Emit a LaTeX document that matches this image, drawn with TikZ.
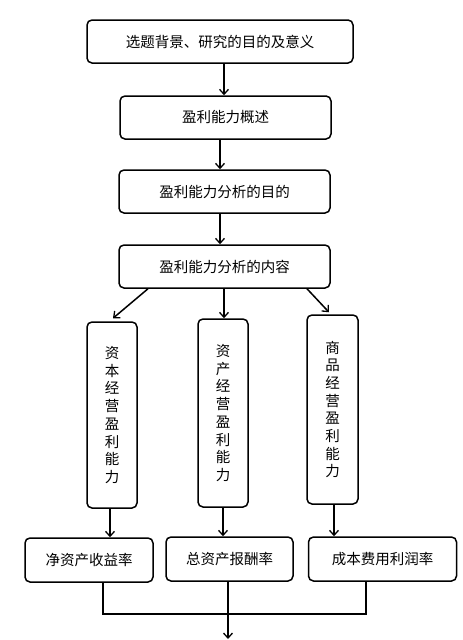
\documentclass[tikz,border=0pt]{standalone}
\usepackage{fontspec}
\setmainfont{Noto Sans CJK SC}
\usetikzlibrary{arrows.meta,calc}
\tikzset{
  box/.style={draw, line width=1.5pt, rounded corners=5pt, inner sep=0pt, align=center,
    font=\fontsize{14.5pt}{17.7pt}\selectfont},
  colbox/.style={box, minimum width=50pt},
  arr/.style={line width=1.5pt, -{Straight Barb[length=5pt,width=9pt,line width=1.3pt]}},
  ln/.style={line width=1.5pt}
}
\begin{document}
\begin{tikzpicture}[x=1pt,y=-1pt]
\useasboundingbox (0,0) rectangle (463,640);
\node[box, minimum width=266pt, minimum height=43pt] (b1) at (220,41.5) {选题背景、研究的目的及意义};
\node[box, minimum width=211pt, minimum height=43pt] (b2) at (225.5,117.5) {盈利能力概述};
\node[box, minimum width=211pt, minimum height=43pt] (b3) at (224.5,191.5) {盈利能力分析的目的};
\node[box, minimum width=211pt, minimum height=43pt] (b4) at (224.5,266.5) {盈利能力分析的内容};
\node[colbox, minimum height=186pt] (L) at (112,415) {资\\本\\经\\营\\盈\\利\\能\\力};
\node[colbox, minimum height=188pt] (M) at (223,413) {资\\产\\经\\营\\盈\\利\\能\\力};
\node[colbox, minimum width=51pt, minimum height=189pt] (R) at (332.5,409.5) {商\\品\\经\\营\\盈\\利\\能\\力};
\node[box, minimum width=128pt, minimum height=44pt] (BL) at (89,560) {净资产收益率};
\node[box, minimum width=127pt, minimum height=44pt] (BM) at (229.5,559) {总资产报酬率};
\node[box, minimum width=148pt, minimum height=44pt] (BR) at (382.5,559) {成本费用利润率};
\coordinate (e) at (228,639);
\draw[arr] ([xshift=4pt]b1.south) -- ([xshift=-1.5pt]b2.north);
\draw[arr] ([xshift=-5.5pt]b2.south) -- ([xshift=-4.5pt]b3.north);
\draw[arr] ([xshift=-4.5pt]b3.south) -- ([xshift=-4.5pt]b4.north);
\draw[arr] ([xshift=-76.5pt]b4.south) -- ([xshift=1pt,yshift=3pt]L.north);
\draw[arr] ([xshift=-0.5pt]b4.south) -- ([xshift=1pt]M.north);
\draw[arr] ([xshift=82.5pt]b4.south) -- ([xshift=-3.5pt,yshift=2pt]R.north);
\draw[arr] ([xshift=-2pt]L.south) -- ([xshift=21pt]BL.north);
\draw[arr] (M.south) -- ([xshift=-6.5pt]BM.north);
\draw[arr] ([xshift=1.5pt]R.south) -- ([xshift=-48.5pt]BR.north);
\draw[ln] ([xshift=14pt]BL.south) -- ++(0,31) -| ([xshift=-16.5pt]BR.south);
\draw[arr] ([xshift=-1.5pt]BM.south) -- (e);
\end{tikzpicture}
\end{document}
